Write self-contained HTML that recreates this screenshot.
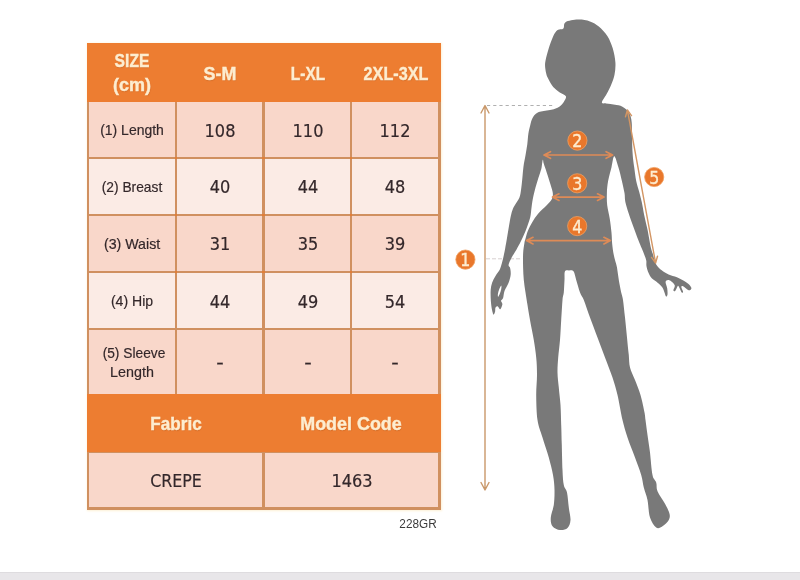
<!DOCTYPE html>
<html><head><meta charset="utf-8"><title>Size chart</title>
<style>
html,body{margin:0;padding:0;background:#fff;}
body{width:800px;height:580px;position:relative;overflow:hidden;font-family:"Liberation Sans",sans-serif;}
.abs{position:absolute;}
.t{position:absolute;white-space:nowrap;transform:translate(-50%,-50%);line-height:1;color:#1a1a1a;}
.l,.v{color:#33272a;-webkit-text-stroke:0.18px #33272a;}
.v{font-family:'DejaVu Sans Condensed','DejaVu Sans',sans-serif;font-stretch:condensed;}
.g{color:#3c3c3c;}
.h{font-weight:bold;color:#fdedd0;-webkit-text-stroke:0.4px #fdedd0;text-shadow:0.5px 0.8px 1px rgba(120,50,0,.22);}
.t span{display:inline-block;}
#size-table,#figure{filter:blur(0.45px);}
#strip{left:0;top:572.3px;width:800px;height:8px;background:#e8e6e9;border-top:1px solid #dedcdf;}
</style></head><body>

<div id="size-table" class="abs" style="left:0;top:0;width:800px;height:580px;">
<div class="abs" style="left:86.9px;top:42.8px;width:353.8px;height:466.9px;background:#f9d7ca;box-shadow:0 0 2px 0.5px #fdf1d6;"></div>
<div class="abs" style="left:86.9px;top:101.1px;width:353.8px;height:57.0px;background:#f9d7ca;"></div>
<div class="abs" style="left:86.9px;top:158.1px;width:353.8px;height:57.0px;background:#fbebe5;"></div>
<div class="abs" style="left:86.9px;top:215.1px;width:353.8px;height:57.0px;background:#f9d7ca;"></div>
<div class="abs" style="left:86.9px;top:272.1px;width:353.8px;height:56.9px;background:#fbebe5;"></div>
<div class="abs" style="left:86.9px;top:329.0px;width:353.8px;height:65.9px;background:#f9d7ca;"></div>
<div class="abs" style="left:86.9px;top:451.3px;width:353.8px;height:58.3px;background:#f9d7ca;"></div>
<div class="abs" style="left:86.9px;top:101.1px;width:2.6px;height:408.5px;background:#d09060;"></div>
<div class="abs" style="left:174.8px;top:101.1px;width:2.6px;height:293.8px;background:#d09060;"></div>
<div class="abs" style="left:262.2px;top:101.1px;width:2.6px;height:408.5px;background:#d09060;"></div>
<div class="abs" style="left:349.9px;top:101.1px;width:2.6px;height:293.8px;background:#d09060;"></div>
<div class="abs" style="left:438.1px;top:101.1px;width:2.6px;height:408.5px;background:#d09060;"></div>
<div class="abs" style="left:86.9px;top:99.8px;width:353.8px;height:2.6px;background:#d09060;"></div>
<div class="abs" style="left:86.9px;top:156.8px;width:353.8px;height:2.6px;background:#d09060;"></div>
<div class="abs" style="left:86.9px;top:213.8px;width:353.8px;height:2.6px;background:#d09060;"></div>
<div class="abs" style="left:86.9px;top:270.8px;width:353.8px;height:2.6px;background:#d09060;"></div>
<div class="abs" style="left:86.9px;top:327.7px;width:353.8px;height:2.6px;background:#d09060;"></div>
<div class="abs" style="left:86.9px;top:393.6px;width:353.8px;height:2.6px;background:#d09060;"></div>
<div class="abs" style="left:86.9px;top:450.0px;width:353.8px;height:2.6px;background:#d09060;"></div>
<div class="abs" style="left:86.9px;top:507.0px;width:353.8px;height:2.6px;background:#d09060;"></div>
<div class="abs" style="left:174.8px;top:156.8px;width:2.6px;height:2.6px;background:#e37d36;"></div>
<div class="abs" style="left:174.8px;top:213.8px;width:2.6px;height:2.6px;background:#e37d36;"></div>
<div class="abs" style="left:174.8px;top:270.8px;width:2.6px;height:2.6px;background:#e37d36;"></div>
<div class="abs" style="left:262.2px;top:156.8px;width:2.6px;height:2.6px;background:#e37d36;"></div>
<div class="abs" style="left:262.2px;top:213.8px;width:2.6px;height:2.6px;background:#e37d36;"></div>
<div class="abs" style="left:262.2px;top:270.8px;width:2.6px;height:2.6px;background:#e37d36;"></div>
<div class="abs" style="left:349.9px;top:156.8px;width:2.6px;height:2.6px;background:#e37d36;"></div>
<div class="abs" style="left:349.9px;top:213.8px;width:2.6px;height:2.6px;background:#e37d36;"></div>
<div class="abs" style="left:349.9px;top:270.8px;width:2.6px;height:2.6px;background:#e37d36;"></div>
<div class="abs" style="left:86.9px;top:42.8px;width:353.8px;height:59.5px;background:#ed7d31;"></div>
<div class="abs" style="left:86.9px;top:393.7px;width:353.8px;height:58.8px;background:#ed7d31;"></div>
<div class="abs" style="left:262.2px;top:452.5px;width:2.6px;height:57.1px;background:#d09060;"></div>
<div class="t h" style="left:132.2px;top:61.3px;font-size:18.2px;"><span style="transform:scaleX(0.860)">SIZE</span></div>
<div class="t h" style="left:132.1px;top:84.7px;font-size:18.2px;"><span style="transform:scaleX(0.990)">(cm)</span></div>
<div class="t h" style="left:219.8px;top:74.0px;font-size:18.2px;"><span style="transform:scaleX(0.985)">S-M</span></div>
<div class="t h" style="left:307.9px;top:74.0px;font-size:18.2px;"><span style="transform:scaleX(0.850)">L-XL</span></div>
<div class="t h" style="left:395.5px;top:74.0px;font-size:18.2px;"><span style="transform:scaleX(0.890)">2XL-3XL</span></div>
<div class="t l" style="left:131.9px;top:130.3px;font-size:14.2px;"><span style="transform:scaleX(0.985)">(1) Length</span></div>
<div class="t l" style="left:131.9px;top:186.8px;font-size:14.2px;"><span style="transform:scaleX(0.970)">(2) Breast</span></div>
<div class="t l" style="left:132.1px;top:243.8px;font-size:14.2px;"><span style="transform:scaleX(1.000)">(3) Waist</span></div>
<div class="t l" style="left:131.9px;top:300.8px;font-size:14.2px;"><span style="transform:scaleX(0.990)">(4) Hip</span></div>
<div class="t l" style="left:133.8px;top:352.6px;font-size:14.2px;"><span style="transform:scaleX(0.970)">(5) Sleeve</span></div>
<div class="t l" style="left:131.9px;top:371.9px;font-size:14.2px;"><span style="transform:scaleX(1.010)">Length</span></div>
<div class="t v" style="left:219.8px;top:131.5px;font-size:17.1px;"><span style="transform:scaleX(1.050)">108</span></div>
<div class="t v" style="left:308.0px;top:131.5px;font-size:17.1px;"><span style="transform:scaleX(1.050)">110</span></div>
<div class="t v" style="left:395.4px;top:131.5px;font-size:17.1px;"><span style="transform:scaleX(1.050)">112</span></div>
<div class="t v" style="left:219.8px;top:188.4px;font-size:17.1px;"><span style="transform:scaleX(1.050)">40</span></div>
<div class="t v" style="left:308.0px;top:188.4px;font-size:17.1px;"><span style="transform:scaleX(1.050)">44</span></div>
<div class="t v" style="left:395.4px;top:188.4px;font-size:17.1px;"><span style="transform:scaleX(1.050)">48</span></div>
<div class="t v" style="left:219.8px;top:245.2px;font-size:17.1px;"><span style="transform:scaleX(1.050)">31</span></div>
<div class="t v" style="left:308.0px;top:245.2px;font-size:17.1px;"><span style="transform:scaleX(1.050)">35</span></div>
<div class="t v" style="left:395.4px;top:245.2px;font-size:17.1px;"><span style="transform:scaleX(1.050)">39</span></div>
<div class="t v" style="left:219.8px;top:302.5px;font-size:17.1px;"><span style="transform:scaleX(1.050)">44</span></div>
<div class="t v" style="left:308.0px;top:302.5px;font-size:17.1px;"><span style="transform:scaleX(1.050)">49</span></div>
<div class="t v" style="left:395.4px;top:302.5px;font-size:17.1px;"><span style="transform:scaleX(1.050)">54</span></div>
<div class="t v" style="left:219.8px;top:362.6px;font-size:17.1px;"><span style="transform:scaleX(1.350)">-</span></div>
<div class="t v" style="left:308.0px;top:362.6px;font-size:17.1px;"><span style="transform:scaleX(1.350)">-</span></div>
<div class="t v" style="left:395.4px;top:362.6px;font-size:17.1px;"><span style="transform:scaleX(1.350)">-</span></div>
<div class="t h" style="left:176.0px;top:423.5px;font-size:18.2px;"><span style="transform:scaleX(0.940)">Fabric</span></div>
<div class="t h" style="left:350.5px;top:423.5px;font-size:18.2px;"><span style="transform:scaleX(0.985)">Model Code</span></div>
<div class="t v" style="left:176.2px;top:482.3px;font-size:17.3px;"><span style="transform:scaleX(1.020)">CREPE</span></div>
<div class="t v" style="left:351.8px;top:482.4px;font-size:17.1px;"><span style="transform:scaleX(1.050)">1463</span></div>
<div class="t g" style="left:418.3px;top:523.9px;font-size:12.0px;"><span style="transform:scaleX(0.980)">228GR</span></div>
</div>
<svg id="figure" class="abs" style="left:0;top:0" width="800" height="580" viewBox="0 0 800 580">
<line x1="487" y1="105.5" x2="555" y2="105.5" stroke="#b0b0b0" stroke-width="1" stroke-dasharray="3.2 3"/>
<line x1="486" y1="258.8" x2="522" y2="258.8" stroke="#d8d0d0" stroke-width="1" stroke-dasharray="4 2"/>
<path d="M578.0 19.6 C582.1 19.5 586.5 20.2 590.0 21.4 C593.5 22.6 595.8 24.1 598.8 26.6 C601.7 29.1 605.2 32.6 607.5 36.2 C609.8 39.9 611.4 44.1 612.8 48.5 C614.1 52.9 615.1 58.1 615.4 62.5 C615.7 66.9 615.2 71.0 614.5 74.8 C613.8 78.5 612.3 82.0 611.0 85.2 C609.7 88.5 608.1 91.1 606.6 94.0 C605.1 96.9 602.0 100.8 601.9 102.4 C601.8 104.0 604.5 103.1 606.0 103.4 C607.5 103.7 608.9 103.8 610.6 104.0 C612.3 104.2 614.8 104.6 616.4 104.9 C618.0 105.2 619.2 105.3 620.5 105.8 C621.8 106.3 623.1 107.2 624.4 108.1 C625.7 109.0 627.1 109.9 628.1 111.2 C629.1 112.6 630.0 114.4 630.6 116.2 C631.2 118.1 631.5 120.2 631.7 122.5 C631.9 124.8 631.9 127.1 632.0 130.0 C632.1 132.9 632.0 136.7 632.1 140.0 C632.2 143.3 632.2 146.7 632.4 150.0 C632.6 153.3 632.9 157.1 633.2 160.0 C633.5 162.9 633.7 163.7 634.2 167.2 C634.7 170.7 635.4 177.0 636.2 181.0 C637.0 185.0 638.2 188.0 639.1 191.4 C640.0 194.8 640.8 197.7 641.7 201.7 C642.6 205.7 643.3 210.6 644.3 215.5 C645.3 220.4 646.7 225.8 647.8 231.0 C648.8 236.2 649.9 243.1 650.7 246.9 C651.5 250.7 652.1 251.5 652.8 253.8 C653.4 256.1 654.1 258.8 654.8 260.7 C655.5 262.6 655.8 263.9 656.9 265.5 C658.0 267.1 659.8 268.8 661.7 270.3 C663.7 271.8 666.1 273.4 668.6 274.5 C671.1 275.6 674.4 276.2 676.9 277.2 C679.4 278.2 681.7 279.4 683.8 280.7 C685.9 282.0 688.0 283.5 689.3 284.8 C690.6 286.1 691.5 287.6 691.4 288.5 C691.3 289.4 690.0 290.7 688.6 290.3 C687.2 289.9 684.3 286.8 683.1 286.2 C681.9 285.6 681.3 286.0 681.3 286.9 C681.3 287.8 683.0 290.8 683.1 291.7 C683.2 292.6 682.4 293.2 681.7 292.4 C681.0 291.6 679.7 287.9 679.0 286.9 C678.3 285.9 678.2 285.5 677.6 286.2 C677.0 286.9 675.9 290.3 675.2 291.0 C674.5 291.7 673.5 291.2 673.4 290.3 C673.3 289.4 675.1 287.0 674.8 285.5 C674.5 284.0 672.5 282.3 671.4 281.4 C670.3 280.5 669.0 279.9 668.0 280.0 C667.0 280.1 665.7 280.6 665.6 282.0 C665.5 283.4 666.9 286.2 667.2 288.3 C667.5 290.4 667.7 293.1 667.5 294.5 C667.3 295.9 666.6 296.9 666.1 296.5 C665.6 296.1 665.1 293.9 664.5 292.4 C663.9 290.9 663.5 289.2 662.4 287.6 C661.2 286.0 659.3 284.2 657.6 282.8 C655.9 281.2 653.5 280.2 652.0 278.6 C650.5 277.0 649.5 275.2 648.6 273.1 C647.7 271.0 646.9 268.3 646.5 266.2 C646.1 264.1 646.6 262.5 646.3 260.7 C646.0 258.9 645.3 257.3 644.5 255.2 C643.7 253.1 642.7 250.8 641.7 248.3 C640.7 245.8 639.7 243.7 638.3 240.0 C636.9 236.3 634.7 230.3 633.1 225.9 C631.5 221.5 630.1 217.8 628.8 213.8 C627.5 209.8 626.0 205.1 625.3 201.7 C624.6 198.2 625.1 196.5 624.5 193.1 C623.9 189.7 622.9 185.3 621.9 181.0 C620.9 176.7 619.7 171.3 618.4 167.2 C617.1 163.1 615.4 156.3 614.3 156.3 C613.1 156.3 612.5 163.1 611.5 167.2 C610.5 171.3 608.9 176.7 608.1 181.0 C607.3 185.3 607.0 189.1 606.9 193.1 C606.8 197.1 606.7 200.9 607.2 205.2 C607.7 209.5 609.1 214.4 609.8 219.0 C610.5 223.6 611.1 228.6 611.5 232.8 C611.9 236.9 611.8 240.3 612.2 244.0 C612.6 247.7 613.0 251.1 613.8 255.0 C614.5 258.9 616.2 263.3 617.0 267.5 C617.8 271.7 618.0 275.8 618.8 280.0 C619.5 284.2 620.5 289.2 621.2 292.5 C622.0 295.8 622.4 295.8 623.0 300.0 C623.6 304.2 624.3 311.2 625.0 317.5 C625.7 323.8 626.4 331.2 627.0 337.5 C627.6 343.8 628.2 350.0 628.8 355.0 C629.2 360.0 629.0 363.3 630.0 367.5 C631.0 371.7 633.2 375.4 635.0 380.0 C636.8 384.6 638.9 389.6 640.5 395.0 C642.1 400.4 643.7 408.3 644.5 412.5 C645.3 416.7 645.0 416.2 645.5 420.0 C646.0 423.8 646.8 429.6 647.5 435.0 C648.2 440.4 649.2 445.8 650.0 452.5 C650.8 459.2 651.5 470.0 652.5 475.0 C653.5 480.0 655.4 479.8 656.2 482.5 C657.1 485.2 656.0 487.7 657.5 491.2 C659.0 494.8 663.0 500.0 665.0 503.8 C667.0 507.5 668.9 511.0 669.5 513.8 C670.1 516.5 669.9 517.9 668.8 520.0 C667.6 522.1 664.6 525.0 662.5 526.2 C660.4 527.5 658.3 529.0 656.2 527.5 C654.2 526.0 651.5 522.1 650.0 517.5 C648.5 512.9 648.5 505.0 647.5 500.0 C646.5 495.0 644.8 491.7 643.8 487.5 C642.7 483.3 642.7 480.0 641.2 475.0 C639.8 470.0 637.3 463.8 635.0 457.5 C632.7 451.2 629.6 443.8 627.5 437.5 C625.4 431.2 624.2 427.1 622.5 420.0 C620.8 412.9 619.2 402.1 617.5 395.0 C615.8 387.9 614.6 383.8 612.5 377.5 C610.4 371.2 607.5 364.2 605.0 357.5 C602.5 350.8 600.0 344.2 597.5 337.5 C595.0 330.8 592.3 323.8 590.0 317.5 C587.7 311.2 585.4 304.2 583.8 300.0 C582.1 295.8 581.2 295.8 580.0 292.5 C578.8 289.2 577.3 283.5 576.2 280.0 C575.2 276.5 574.7 272.9 573.5 271.3 C572.3 269.7 570.4 270.4 569.0 270.4 C567.6 270.4 565.8 269.7 565.0 271.3 C564.2 272.9 564.7 276.5 564.5 280.0 C564.3 283.5 564.1 289.2 563.8 292.5 C563.4 295.8 562.9 295.4 562.5 300.0 C562.1 304.6 561.7 313.3 561.2 320.0 C560.8 326.7 560.5 333.8 560.0 340.0 C559.5 346.2 558.7 352.1 558.2 357.5 C557.8 362.9 557.4 367.5 557.5 372.5 C557.6 377.5 558.2 382.1 558.8 387.5 C559.2 392.9 560.1 398.8 560.5 405.0 C560.9 411.2 561.0 418.3 561.2 425.0 C561.5 431.7 561.5 437.5 561.8 445.0 C562.0 452.5 562.2 463.3 562.5 470.0 C562.8 476.7 563.0 481.2 563.8 485.0 C564.5 488.8 566.2 488.8 567.0 492.5 C567.8 496.2 568.2 502.9 568.8 507.5 C569.3 512.1 570.7 516.6 570.5 520.0 C570.3 523.4 569.2 526.3 567.5 528.0 C565.8 529.7 562.5 530.3 560.0 530.0 C557.5 529.7 554.0 528.3 552.5 526.2 C551.0 524.2 550.5 521.0 550.8 517.5 C551.0 514.0 553.1 509.6 553.8 505.0 C554.4 500.4 554.6 495.0 554.5 490.0 C554.4 485.0 554.0 480.4 553.0 475.0 C552.0 469.6 550.5 463.8 548.8 457.5 C547.0 451.2 544.4 443.8 542.5 437.5 C540.6 431.2 538.5 427.1 537.5 420.0 C536.5 412.9 536.3 402.5 536.2 395.0 C536.2 387.5 537.0 381.2 537.0 375.0 C537.0 368.8 536.8 363.3 536.2 357.5 C535.7 351.7 534.8 346.2 533.8 340.0 C532.7 333.8 531.0 325.8 530.0 320.0 C529.0 314.2 528.2 309.6 527.5 305.0 C526.8 300.4 526.1 296.7 525.5 292.5 C524.9 288.3 524.1 284.1 523.8 280.0 C523.4 275.9 523.2 272.0 523.1 267.6 C523.0 263.2 522.9 258.0 523.1 253.8 C523.3 249.6 524.1 244.8 524.5 242.5 C524.9 240.2 524.7 241.6 525.2 239.7 C525.8 237.8 526.6 233.9 527.8 231.0 C528.9 228.1 530.4 225.3 532.1 222.4 C533.8 219.5 535.7 216.7 538.1 213.8 C540.5 210.9 544.4 207.6 546.7 205.2 C549.0 202.8 550.9 201.1 551.9 199.1 C552.9 197.1 553.0 195.5 552.8 193.1 C552.6 190.7 551.5 187.9 550.5 184.5 C549.5 181.1 547.8 175.8 546.7 172.4 C545.6 169.0 544.4 165.9 543.8 163.8 C543.1 161.7 543.2 159.2 542.8 159.8 C542.4 160.4 542.0 165.5 541.6 167.6 C541.2 169.7 541.1 169.6 540.2 172.4 C539.3 175.2 537.5 180.5 536.4 184.5 C535.2 188.5 534.1 192.9 533.3 196.6 C532.5 200.3 532.1 203.5 531.6 206.9 C531.1 210.3 531.1 213.4 530.3 217.0 C529.4 220.6 528.0 224.5 526.5 228.5 C525.0 232.5 522.7 237.5 521.0 241.0 C519.3 244.5 518.0 246.8 516.4 249.7 C514.8 252.5 512.7 255.4 511.4 257.9 C510.1 260.4 508.8 263.2 508.6 264.8 C508.4 266.4 509.6 266.0 510.0 267.6 C510.4 269.2 510.9 272.0 510.7 274.5 C510.5 277.0 509.6 280.0 508.6 282.8 C507.6 285.5 505.4 288.5 504.5 291.0 C503.6 293.5 503.7 296.3 503.1 297.9 C502.5 299.5 501.1 299.7 501.0 300.7 C500.9 301.7 502.4 302.8 502.4 304.1 C502.4 305.4 501.4 307.5 501.0 308.3 C500.6 309.1 500.3 309.4 499.7 309.0 C499.1 308.6 498.3 306.4 497.6 306.2 C496.9 306.0 495.9 306.7 495.5 307.6 C495.1 308.5 495.4 310.6 495.1 311.7 C494.8 312.8 494.1 314.3 493.7 314.5 C493.3 314.7 493.1 314.5 492.8 313.1 C492.4 311.7 491.7 308.7 491.4 306.2 C491.1 303.7 490.8 300.6 490.7 297.9 C490.6 295.1 490.5 292.2 490.7 289.7 C490.9 287.2 491.3 285.1 492.1 282.8 C492.9 280.4 494.2 278.1 495.5 275.9 C496.8 273.7 498.6 271.9 499.7 269.7 C500.8 267.5 501.3 265.2 502.0 262.8 C502.7 260.3 503.3 257.6 503.8 255.2 C504.3 252.8 504.7 251.2 505.2 248.3 C505.7 245.4 506.3 242.2 507.0 238.0 C507.7 233.8 508.8 227.0 509.5 223.0 C510.2 219.0 510.6 216.6 511.3 214.0 C512.0 211.4 512.6 209.3 513.6 207.3 C514.6 205.3 515.9 203.7 517.0 201.8 C518.1 199.9 519.2 198.7 520.0 195.8 C520.8 192.9 521.1 189.3 521.7 184.5 C522.3 179.7 522.8 172.1 523.4 167.2 C524.0 162.3 524.9 159.0 525.5 155.2 C526.1 151.4 526.8 147.9 527.3 144.3 C527.8 140.7 527.9 136.7 528.4 133.5 C528.9 130.3 529.8 127.0 530.3 125.0 C530.8 123.0 530.8 122.6 531.2 121.2 C531.7 119.9 532.4 118.1 533.1 116.9 C533.8 115.7 534.7 114.9 535.6 114.1 C536.5 113.3 537.4 112.4 538.8 111.9 C540.1 111.4 541.9 111.2 543.8 110.9 C545.6 110.6 548.1 110.4 550.0 110.0 C551.9 109.6 553.3 109.4 555.0 108.8 C556.7 108.1 558.5 107.4 560.0 106.2 C561.5 105.1 562.8 103.6 563.8 101.9 C564.7 100.2 566.6 97.9 565.9 96.2 C565.2 94.6 561.5 93.8 559.4 92.2 C557.3 90.7 555.0 89.0 553.2 87.0 C551.5 85.0 550.0 82.0 548.9 80.0 C547.8 78.0 547.1 76.8 546.5 74.8 C545.9 72.7 545.4 70.1 545.2 67.8 C545.0 65.4 544.9 64.0 545.5 60.8 C546.1 57.5 547.4 52.6 548.7 48.5 C550.0 44.4 551.8 39.3 553.2 36.2 C554.7 33.2 555.9 31.4 557.6 30.1 C559.3 28.8 562.1 29.7 563.4 28.4 C564.7 27.1 563.1 23.7 565.5 22.2 C567.9 20.8 573.9 19.7 578.0 19.6Z M501.2 285.6 C502.2 287 500.3 293.8 498.1 297 C497.2 295.6 498.9 288.4 501.2 285.6Z" fill="#797979" fill-rule="evenodd"/>
<g fill="none" stroke="#c9986a" stroke-width="1.4" stroke-linecap="round" stroke-linejoin="round">
<path d="M485 106 V489.5 M481 113 L485 105.5 L489 113 M481 482.5 L485 490 L489 482.5"/>
</g>
<g fill="none" stroke="#de8b57" stroke-width="1.7" stroke-linecap="round" stroke-linejoin="round">
<path d="M544.0 155.0 H612.6 M550.5 151.7 L544.0 155.0 L550.5 158.3 M606.1 151.7 L612.6 155.0 L606.1 158.3"/>
<path d="M552.5 197.1 H604.0 M559.0 193.8 L552.5 197.1 L559.0 200.4 M597.5 193.8 L604.0 197.1 L597.5 200.4"/>
<path d="M526.5 240.6 H610.4 M533.0 237.3 L526.5 240.6 L533.0 243.9 M603.9 237.3 L610.4 240.6 L603.9 243.9"/>
<path d="M627.4 110.0 L655.6 263.0 M631.5 115.6 L627.4 110.0 L625.5 116.8 M651.5 257.4 L655.6 263.0 L657.5 256.2" stroke="#d39664" stroke-width="1.4"/>
</g>
<circle cx="465.4" cy="259.6" r="9.6" fill="#e9772b" stroke="#f0a060" stroke-width="0.8"/>
<text x="465.4" y="266.1" font-family="DejaVu Sans Condensed, DejaVu Sans, sans-serif" font-stretch="condensed" font-size="17.6" fill="#fdeccf" stroke="#fdeccf" stroke-width="0.35" text-anchor="middle">1</text>
<circle cx="577.4" cy="140.6" r="9.6" fill="#e9772b" stroke="#f0a060" stroke-width="0.8"/>
<text x="577.4" y="147.1" font-family="DejaVu Sans Condensed, DejaVu Sans, sans-serif" font-stretch="condensed" font-size="17.6" fill="#fdeccf" stroke="#fdeccf" stroke-width="0.35" text-anchor="middle">2</text>
<circle cx="577.2" cy="183.3" r="9.6" fill="#e9772b" stroke="#f0a060" stroke-width="0.8"/>
<text x="577.2" y="189.8" font-family="DejaVu Sans Condensed, DejaVu Sans, sans-serif" font-stretch="condensed" font-size="17.6" fill="#fdeccf" stroke="#fdeccf" stroke-width="0.35" text-anchor="middle">3</text>
<circle cx="577.2" cy="226.1" r="9.6" fill="#e9772b" stroke="#f0a060" stroke-width="0.8"/>
<text x="577.2" y="232.6" font-family="DejaVu Sans Condensed, DejaVu Sans, sans-serif" font-stretch="condensed" font-size="17.6" fill="#fdeccf" stroke="#fdeccf" stroke-width="0.35" text-anchor="middle">4</text>
<circle cx="654.2" cy="177.0" r="9.6" fill="#e9772b" stroke="#f0a060" stroke-width="0.8"/>
<text x="654.2" y="183.5" font-family="DejaVu Sans Condensed, DejaVu Sans, sans-serif" font-stretch="condensed" font-size="17.6" fill="#fdeccf" stroke="#fdeccf" stroke-width="0.35" text-anchor="middle">5</text>
</svg>
<div id="strip" class="abs"></div>
</body></html>
